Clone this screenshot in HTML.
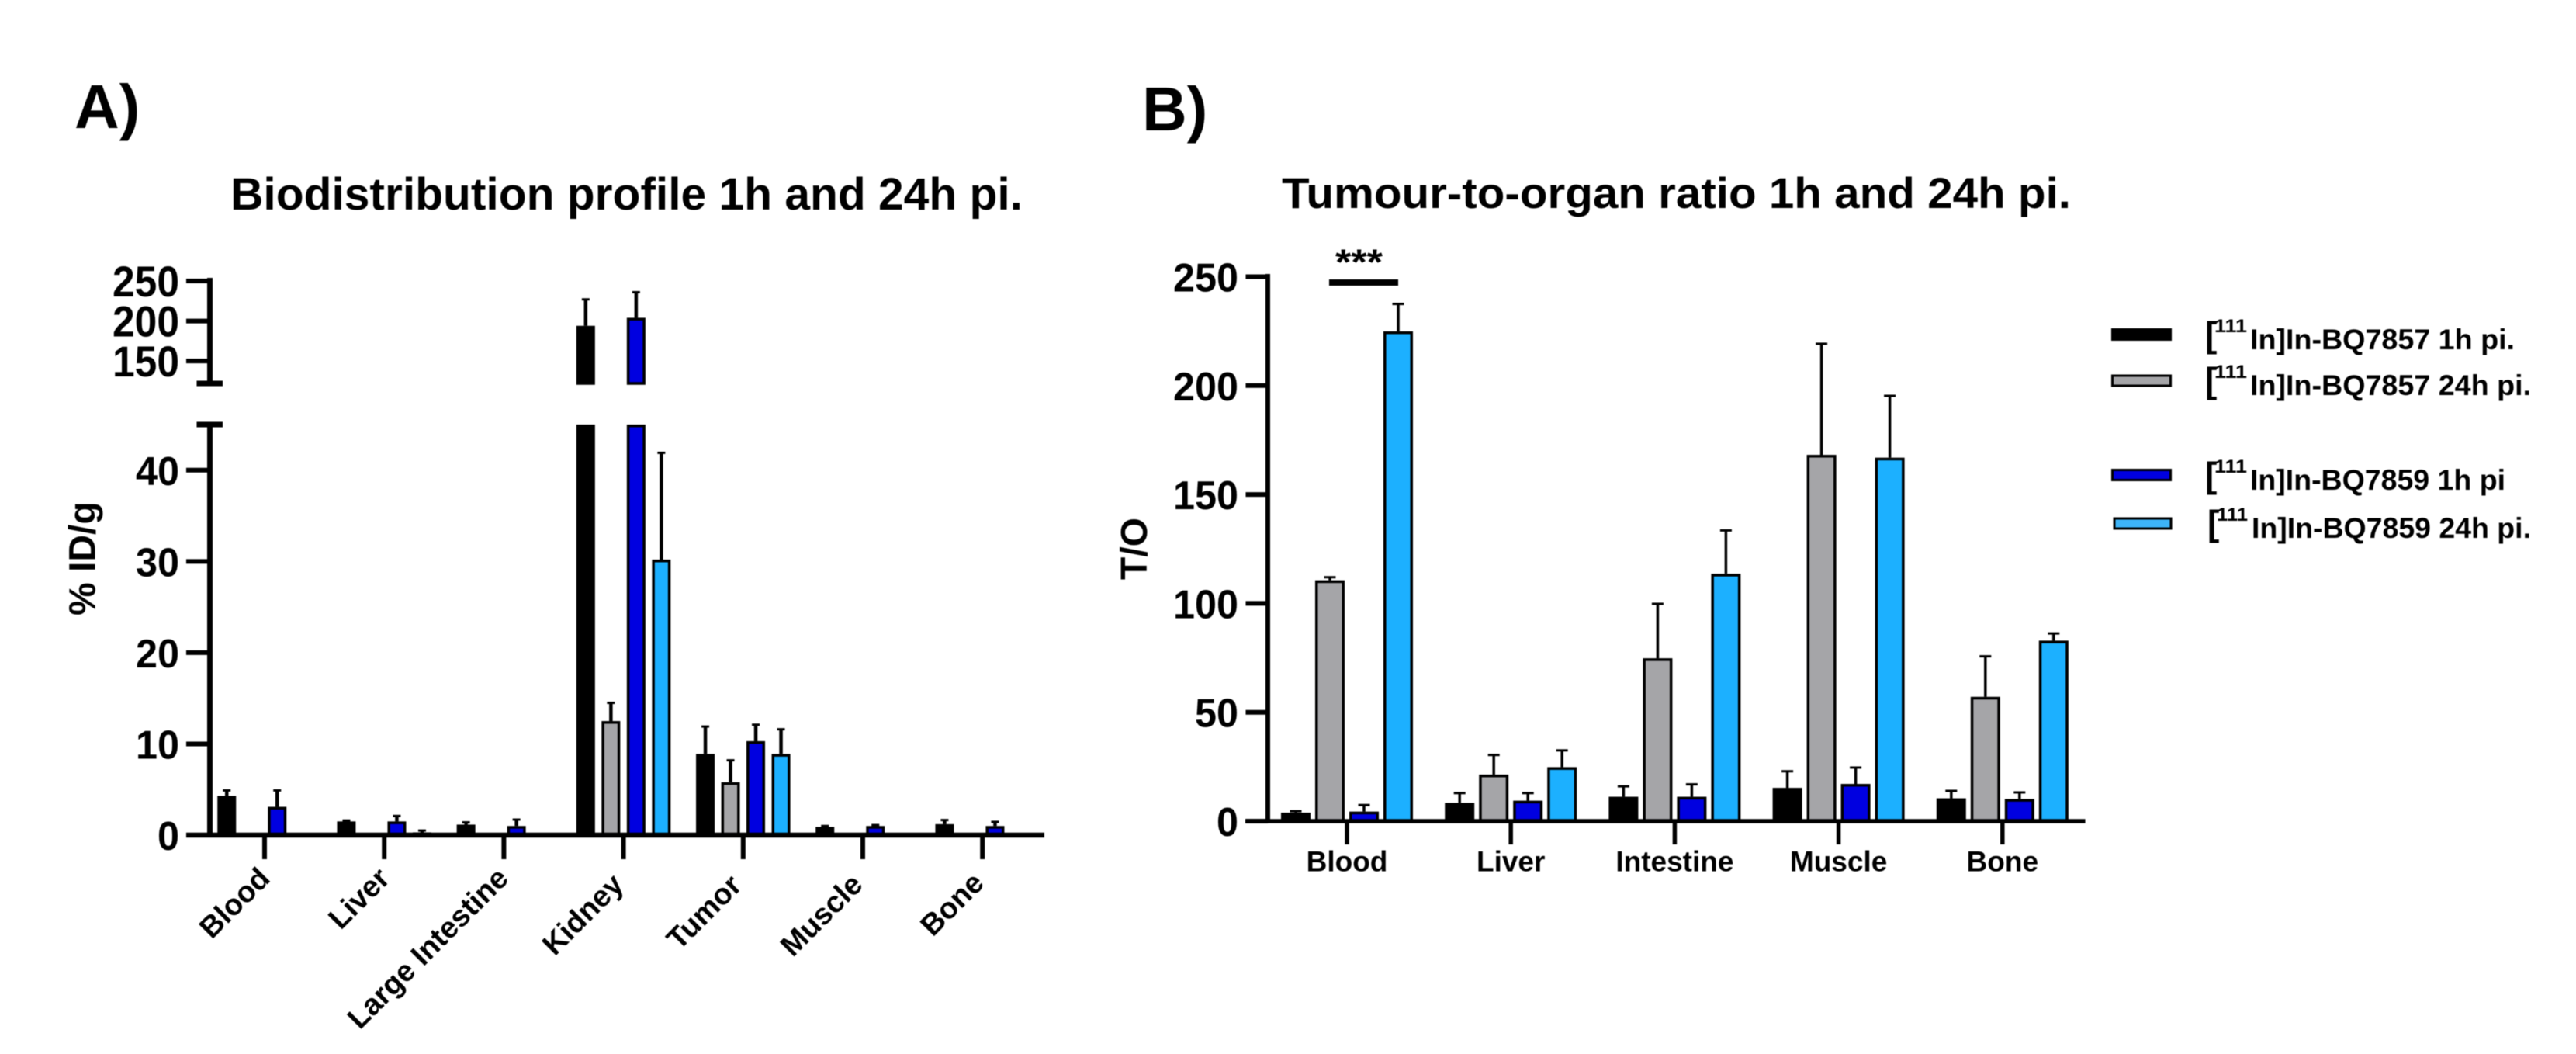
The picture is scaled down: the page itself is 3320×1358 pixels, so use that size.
<!DOCTYPE html>
<html lang="en">
<head>
<meta charset="utf-8">
<title>Biodistribution and tumour-to-organ ratio</title>
<style>
html,body{margin:0;padding:0;background:#fff;}
svg{display:block;filter:blur(0.5px);}
text{font-family:"Liberation Sans",Arial,sans-serif;font-weight:bold;fill:#000;}
</style>
</head>
<body>
<svg id="figure" xmlns="http://www.w3.org/2000/svg" width="3320" height="1358" viewBox="0 0 3320 1358">
  <rect x="0" y="0" width="3320" height="1358" fill="#fff"/>
  <text x="96" y="165" font-size="80">A)</text>
  <text x="1472" y="168" font-size="80">B)</text>
  <text x="297" y="270" font-size="58" textLength="1021" lengthAdjust="spacingAndGlyphs">Biodistribution profile 1h and 24h pi.</text>
  <text x="1652" y="268" font-size="56" textLength="1017" lengthAdjust="spacingAndGlyphs">Tumour-to-organ ratio 1h and 24h pi.</text>
  <text transform="translate(122.7,793) rotate(-90)" font-size="48">% ID/g</text>
  <text transform="translate(1478,747) rotate(-90)" font-size="48">T/O</text>
  <g id="bars-a"></g>
  <g id="axes-a"></g>
  <g id="bars-b"></g>
  <g id="axes-b"></g>
  <rect x="1713" y="360" width="89" height="8" fill="#000"/>
  <text x="1721" y="353.5" font-size="46" textLength="61" lengthAdjust="spacingAndGlyphs">***</text>

  <g>
    <g>
      <rect x="2721" y="423" width="78" height="16" fill="#000"/>
      <text x="2842" y="447" font-size="46">[</text>
      <text x="2854" y="428" font-size="24" textLength="42" lengthAdjust="spacingAndGlyphs">111</text>
      <text x="2900" y="450" font-size="37" textLength="341" lengthAdjust="spacingAndGlyphs">In]In-BQ7857 1h pi.</text>
    </g>
    <g>
      <rect x="2722.5" y="484" width="75" height="13" fill="#a5a5a8" stroke="#000" stroke-width="3"/>
      <text x="2842" y="506" font-size="46">[</text>
      <text x="2854" y="487" font-size="24" textLength="42" lengthAdjust="spacingAndGlyphs">111</text>
      <text x="2900" y="509" font-size="37" textLength="362" lengthAdjust="spacingAndGlyphs">In]In-BQ7857 24h pi.</text>
    </g>
    <g>
      <rect x="2722.5" y="605.5" width="75" height="13" fill="#0000e0" stroke="#000" stroke-width="3"/>
      <text x="2842" y="628" font-size="46">[</text>
      <text x="2854" y="609" font-size="24" textLength="42" lengthAdjust="spacingAndGlyphs">111</text>
      <text x="2900" y="631" font-size="37" textLength="329" lengthAdjust="spacingAndGlyphs">In]In-BQ7859 1h pi</text>
    </g>
    <g>
      <rect x="2725" y="668" width="73" height="13" fill="#3db4f8" stroke="#000" stroke-width="3"/>
      <text x="2845" y="690" font-size="46">[</text>
      <text x="2857" y="671" font-size="24" textLength="40" lengthAdjust="spacingAndGlyphs">111</text>
      <text x="2902" y="693" font-size="37" textLength="360" lengthAdjust="spacingAndGlyphs">In]In-BQ7859 24h pi.</text>
    </g>
  </g>
</svg>
<script>
const organsA = ['Blood', 'Liver', 'Large Intestine', 'Kidney', 'Tumor', 'Muscle', 'Bone'];
const bq7857h1A = [4.3, 1.5, 1.15, 194, 8.9, 0.9, 1.2];
const bq7857h1ErrA = [0.6, 0.1, 0.25, 33, 3.0, 0.1, 0.45];
const bq7857h24A = [0.1, 0.2, 0.1, 12.5, 5.8, 0.1, 0.1];
const bq7857h24ErrA = [0, 0, 0, 2.0, 2.4, 0, 0];
const bq7859h1A = [3.1, 1.5, 1.0, 204, 10.3, 1.0, 1.0];
const bq7859h1ErrA = [1.8, 0.6, 0.7, 32, 1.8, 0.1, 0.45];
const bq7859h24A = [0.1, 0.3, 0.1, 30.2, 8.9, 0.1, 0.1];
const bq7859h24ErrA = [0, 0.2, 0, 11.7, 2.7, 0, 0];
const lowerTicksA = [0, 10, 20, 30, 40];
const upperTicksA = [150, 200, 250];

const organsB = ['Blood', 'Liver', 'Intestine', 'Muscle', 'Bone'];
const bq7857h1B = [3.9, 8.4, 11.2, 15.3, 10.5];
const bq7857h1ErrB = [0.7, 4.5, 4.8, 7.6, 3.4];
const bq7857h24B = [110.6, 21.4, 74.8, 168.2, 57.1];
const bq7857h24ErrB = [1.4, 9.0, 25.0, 51.0, 18.6];
const bq7859h1B = [4.4, 9.4, 11.2, 17.1, 10.2];
const bq7859h1ErrB = [3.0, 3.5, 5.7, 7.5, 3.0];
const bq7859h24B = [224.9, 24.8, 113.6, 166.9, 82.9];
const bq7859h24ErrB = [12.6, 7.7, 19.9, 28.4, 3.3];
const ticksB = [0, 50, 100, 150, 200, 250];

const seriesNames = ['bq7857-1h', 'bq7857-24h', 'bq7859-1h', 'bq7859-24h'];
const seriesA = [bq7857h1A, bq7857h24A, bq7859h1A, bq7859h24A];
const errorsA = [bq7857h1ErrA, bq7857h24ErrA, bq7859h1ErrA, bq7859h24ErrA];
const seriesB = [bq7857h1B, bq7857h24B, bq7859h1B, bq7859h24B];
const errorsB = [bq7857h1ErrB, bq7857h24ErrB, bq7859h1ErrB, bq7859h24ErrB];

const fills = ['#000000', '#a5a5a8', '#0000e0', '#1cb0ff'];
const NS = 'http://www.w3.org/2000/svg';

const BREAK_LOW = 45, BREAK_HIGH = 122;
function yA(v) {
  if (v <= BREAK_LOW) return 1076 - v * 11.756;
  return 494 - (v - BREAK_HIGH) * 1.031;
}
function xA(i) { return 341 + i * 154.2; }
function xB(i) { return 1736 + i * 211.2; }
function yB(v) { return 1058 - v * 2.806; }
function slug(s) { return s.toLowerCase().replace(/\s+/g, '-'); }

function make(parent, tag, attrs, text) {
  const node = document.createElementNS(NS, tag);
  for (const k in attrs) node.setAttribute(k, attrs[k]);
  if (text !== undefined) node.textContent = text;
  parent.appendChild(node);
  return node;
}

function drawBarRect(parent, x, top, w, bottom, fill, name) {
  const el = make(parent, 'rect', { x: x + 1.75, y: top + 1.75, width: w - 3.5, height: Math.max(0, bottom - top - 1.75), fill: fill, stroke: '#000', 'stroke-width': 3.5 });
  
  
}

function drawError(parent, cx, yFrom, yTo, capW, stemW, name) {
  const stem = make(parent, 'line', { x1: cx, x2: cx, y1: yFrom, y2: yTo, stroke: '#000', 'stroke-width': stemW });
  
  
  const cap = make(parent, 'line', { x1: cx - capW / 2, x2: cx + capW / 2, y1: yTo, y2: yTo, stroke: '#000', 'stroke-width': 3 });
  
  
}

function drawLine(parent, x1, y1, x2, y2, w, name) {
  const el = make(parent, 'line', { x1: x1, y1: y1, x2: x2, y2: y2, stroke: '#000', 'stroke-width': w });
  
  
}

function drawTickLabel(parent, right, y, value, name) {
  const s = String(value);
  const el = make(parent, 'text', { x: right, y: y, 'font-size': 52, 'text-anchor': 'end', textLength: s.length * 28, lengthAdjust: 'spacingAndGlyphs' }, s);
  
  
}

/* Panel A */
const barsA = document.getElementById('bars-a');
const axesA = document.getElementById('axes-a');
const W_A = 24, PITCH_A = 32.5;
organsA.forEach(function (organ, i) {
  seriesA.forEach(function (vals, j) {
    const v = vals[i];
    const e = errorsA[j][i];
    const cx = xA(i) + (j - 1.5) * PITCH_A;
    const name = 'bar-' + slug(organ) + '-' + seriesNames[j];
    if (e > 0) drawError(barsA, cx, yA(v), yA(v + e), 10, 4.5, name + '-error');
    if (v > BREAK_LOW) {
      drawBarRect(barsA, cx - W_A / 2, yA(v), W_A, yA(BREAK_HIGH), fills[j], name + '-upper');
      drawBarRect(barsA, cx - W_A / 2, yA(BREAK_LOW), W_A, yA(0), fills[j], name + '-lower');
    } else {
      drawBarRect(barsA, cx - W_A / 2, yA(v), W_A, yA(0), fills[j], name);
    }
  });
});
drawLine(axesA, 270.5, 358, 270.5, 494, 7, 'y-axis-upper-line');
drawLine(axesA, 253.5, 494, 287, 494, 7, 'y-axis-upper-break-cap');
drawLine(axesA, 270.5, 547, 270.5, 1076, 7, 'y-axis-lower-line');
drawLine(axesA, 253.5, 547, 287, 547, 7, 'y-axis-lower-break-cap');
drawLine(axesA, 240, 1076, 1346, 1076, 6.5, 'x-axis-line');
upperTicksA.forEach(function (t) {
  drawLine(axesA, 240, yA(t), 270, yA(t), 6, 'y-tick-' + t);
  const s = String(t);
  const el = make(axesA, 'text', { x: 231, y: yA(t) + 20, 'font-size': 56, 'text-anchor': 'end', textLength: 86, lengthAdjust: 'spacingAndGlyphs' }, s);
  
  
});
lowerTicksA.forEach(function (t) {
  drawLine(axesA, 240, yA(t), 270, yA(t), 6, 'y-tick-' + t);
  drawTickLabel(axesA, 231, yA(t) + 19, t, 'y-tick-label-' + t);
});
const labelNudgeXA = [9, 9, 8, 2, 0, 2, 4];
const labelNudgeYA = [1134, 1134, 1134, 1142, 1143, 1142, 1140];
organsA.forEach(function (organ, i) {
  drawLine(axesA, xA(i), 1076, xA(i), 1107, 6, 'x-tick-' + slug(organ));
  const el = make(axesA, 'text', { transform: 'translate(' + (xA(i) + labelNudgeXA[i]) + ',' + labelNudgeYA[i] + ') rotate(-45)', 'font-size': 38.5, 'text-anchor': 'end' }, organ);
  
  
});

/* Panel B */
const barsB = document.getElementById('bars-b');
const axesB = document.getElementById('axes-b');
const W_B = 38, PITCH_B = 44;
organsB.forEach(function (organ, i) {
  seriesB.forEach(function (vals, j) {
    const v = vals[i];
    const e = errorsB[j][i];
    const cx = xB(i) + (j - 1.5) * PITCH_B;
    const name = 'bar-ratio-' + slug(organ) + '-' + seriesNames[j];
    if (e > 0) drawError(barsB, cx, yB(v), yB(v + e), 15, 3.5, name + '-error');
    drawBarRect(barsB, cx - W_B / 2, yB(v), W_B, yB(0), fills[j], name);
  });
});
drawLine(axesB, 1634, 353, 1634, 1058, 6, 'y-axis-line-ratio');
drawLine(axesB, 1605, 1058, 2687.5, 1058, 5.5, 'x-axis-line-ratio');
ticksB.forEach(function (t) {
  drawLine(axesB, 1605.5, yB(t), 1634, yB(t), 6, 'y-tick-ratio-' + t);
  drawTickLabel(axesB, 1596, yB(t) + 19, t, 'y-tick-label-ratio-' + t);
});
organsB.forEach(function (organ, i) {
  drawLine(axesB, xB(i), 1058, xB(i), 1088, 5.5, 'x-tick-ratio-' + slug(organ));
  const el = make(axesB, 'text', { x: xB(i), y: 1122.7, 'font-size': 37, 'text-anchor': 'middle' }, organ);
  
  
});
</script>
</body>
</html>
